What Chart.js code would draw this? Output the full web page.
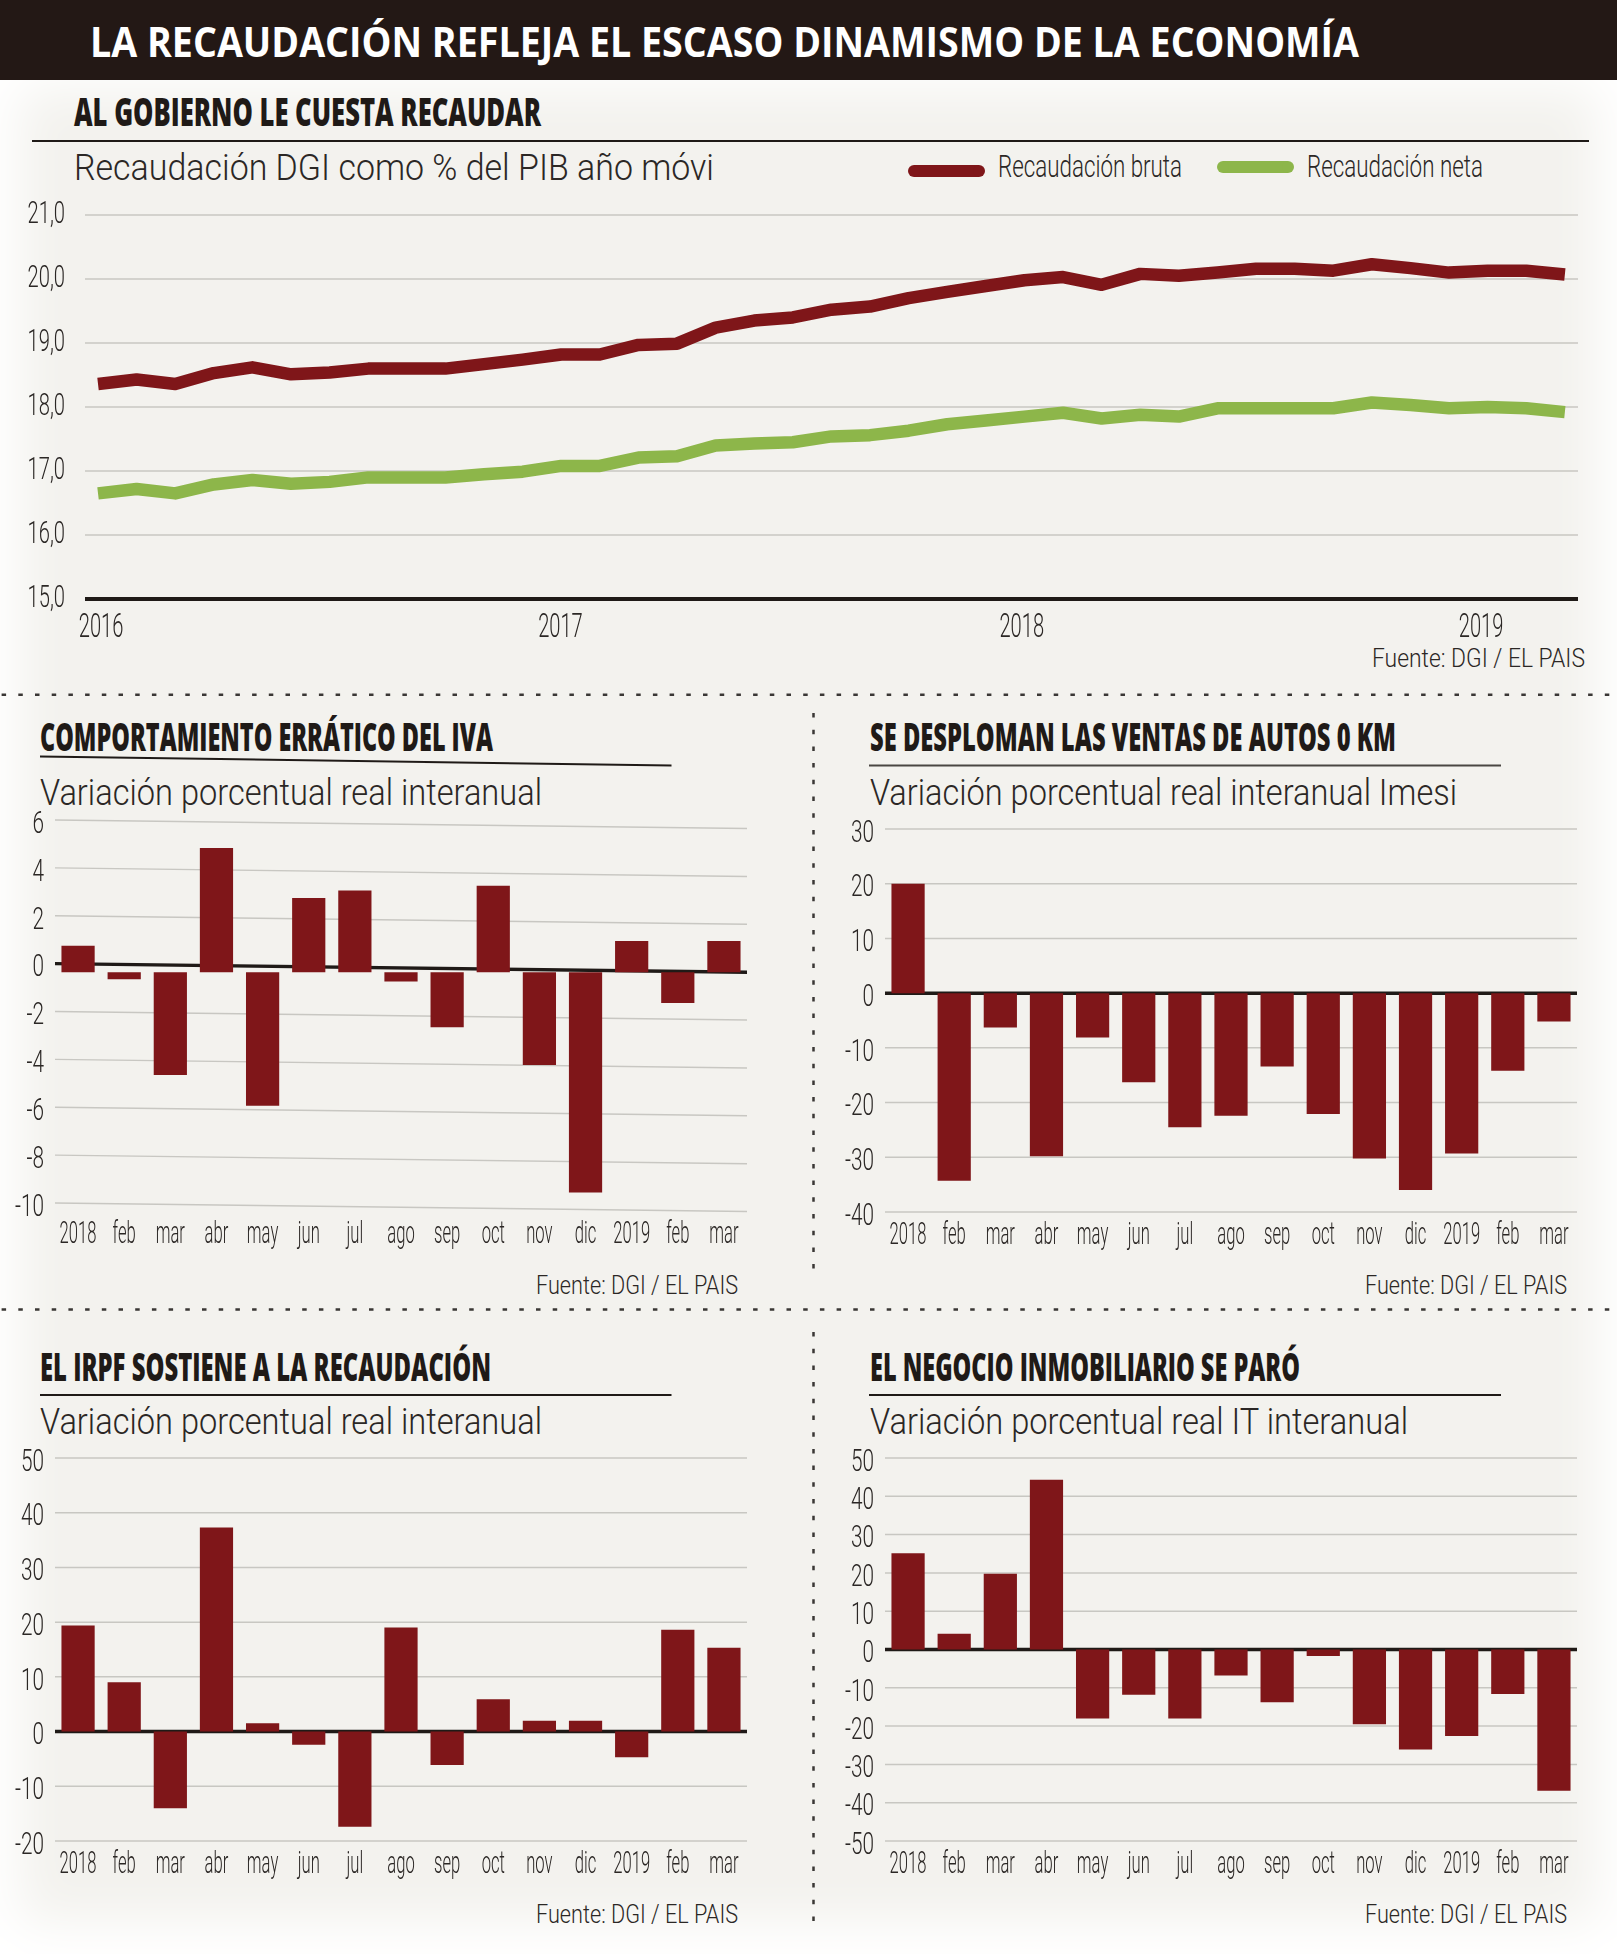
<!DOCTYPE html>
<html lang="es">
<head>
<meta charset="utf-8">
<title>La recaudación refleja el escaso dinamismo de la economía</title>
<script src="https://cdn.jsdelivr.net/npm/chart.js@4"></script>
<style>
    html, body { margin: 0; padding: 0; background: #fff; }
    #page { position: relative; width: 1617px; height: 1954px; overflow: hidden; background: #f3f2ee; }
    #fade { position: absolute; left: 0; top: 80px; width: 1617px; height: 1874px; box-shadow: inset 0 -12px 50px 20px #fff; }
    #band { position: absolute; left: 0; top: 0; width: 1617px; height: 80px; background: #231815; }
    canvas { position: absolute; }
    svg { position: absolute; left: 0; top: 0; }
</style>
</head>
<body>
<div id="page">
    <div id="fade"></div>
    <div id="band"></div>
    <svg id="overlay" width="1617" height="1954" xmlns="http://www.w3.org/2000/svg"></svg>
</div>
<script>
// data
var months = ['2018', 'feb', 'mar', 'abr', 'may', 'jun', 'jul', 'ago', 'sep', 'oct', 'nov', 'dic', '2019', 'feb', 'mar'];
var yearLabels = ['2016', '2017', '2018', '2019'];
var seriesNames = ['Recaudación bruta', 'Recaudación neta'];

var bruta = [18.36, 18.43, 18.36, 18.53, 18.62, 18.51, 18.54, 18.60, 18.60, 18.60, 18.67, 18.74, 18.82,
    18.82, 18.97, 18.99, 19.24, 19.35, 19.40, 19.52, 19.57, 19.70, 19.80, 19.89, 19.98, 20.03,
    19.91, 20.08, 20.05, 20.10, 20.16, 20.16, 20.13, 20.23, 20.17, 20.10, 20.13, 20.13, 20.07];
var neta = [16.65, 16.72, 16.65, 16.79, 16.86, 16.80, 16.83, 16.90, 16.90, 16.90, 16.95, 16.99, 17.08,
    17.08, 17.21, 17.23, 17.40, 17.43, 17.45, 17.54, 17.56, 17.63, 17.73, 17.79, 17.85, 17.91,
    17.82, 17.88, 17.85, 17.98, 17.98, 17.98, 17.98, 18.07, 18.03, 17.98, 18.00, 17.98, 17.92];

var iva = [0.75, -0.65, -4.65, 4.83, -5.94, 2.74, 3.05, -0.75, -2.66, 3.25, -4.24, -9.56, 0.94, -1.65, 0.94];
var autos = [20, -34.3, -6.3, -29.8, -8.1, -16.3, -24.5, -22.4, -13.4, -22.1, -30.2, -36, -29.3, -14.2, -5.2];
var irpf = [19.4, 9, -14, 37.3, 1.5, -2.4, -17.4, 19, -6.1, 5.9, 2, 2, -4.7, 18.6, 15.3];
var inmobiliario = [25.1, 4.1, 19.8, 44.3, -18, -11.8, -18, -6.8, -13.8, -1.7, -19.5, -26.1, -22.6, -11.6, -36.9];

var RED = '#7f1619';
var GREEN = '#8db64a';
var INK = '#2b2725';
var DARK = '#1f1a17';
var GRID = '#c8c7c2';

// grid lines, tick labels:
var axisPainter = {
    id: 'axisPainter',
    beforeDatasetsDraw: function (chart, args, opts) {
        var y = chart.scales.y, a = chart.chartArea, c = chart.ctx;
        y.ticks.forEach(function (t, i) {
            var py = y.getPixelForTick(i);
            c.beginPath();
            c.moveTo(a.left, py);
            c.lineTo(a.right, py + (opts.tilt || 0));
            c.lineWidth = t.value === opts.baseValue ? opts.baseWidth : 1.5;
            c.strokeStyle = t.value === opts.baseValue ? DARK : GRID;
            c.stroke();
        });
    },
    afterDatasetsDraw: function (chart, args, opts) {
        var x = chart.scales.x, y = chart.scales.y, c = chart.ctx;
        function label(text, px, py, align, size, sx) {
            c.save();
            c.translate(px, py);
            c.scale(sx, 1);
            c.font = '300 ' + size + 'px Roboto';
            c.fillStyle = INK;
            c.textAlign = align;
            c.textBaseline = 'middle';
            c.fillText(text, 0, 0);
            c.restore();
        }
        y.ticks.forEach(function (t, i) {
            label(t.label, chart.chartArea.left + opts.yLabelX, y.getPixelForTick(i) + opts.yLabelDy, 'right', opts.ySize, opts.yScale);
        });
        x.ticks.forEach(function (t, i) {
            label(t.label, x.getPixelForTick(i), chart.chartArea.bottom + opts.xLabelY, 'center', opts.xSize, opts.xScale);
        });
    }
};
Chart.register(axisPainter);

function makeCanvas(plot) {
    var cv = document.createElement('canvas');
    cv.width = plot.right - plot.left + 90;
    cv.height = plot.bottom - plot.top + 70;
    cv.style.left = (plot.left - 60) + 'px';
    cv.style.top = (plot.top - 20) + 'px';
    cv.style.width = cv.width + 'px';
    cv.style.height = cv.height + 'px';
    document.getElementById('page').appendChild(cv);
    return cv;
}

function barChart(plot, values, yMin, yMax, step, extra) {
    var o = extra || {};
    var painter = {
        baseValue: 0, baseWidth: 3.5, tilt: o.tilt || 0,
        yLabelX: -11, yLabelDy: 5, ySize: 31, yScale: 0.67,
        xLabelY: o.xLabelY || 24, xSize: 32, xScale: 0.52
    };
    return new Chart(makeCanvas(plot), {
        type: 'bar',
        data: {
            labels: months,
            datasets: [{
                data: values,
                backgroundColor: RED,
                categoryPercentage: 1,
                barPercentage: 0.72,
                base: o.base === undefined ? 0 : o.base
            }]
        },
        options: {
            responsive: false,
            animation: false,
            devicePixelRatio: 1,
            layout: { padding: { left: 60, right: 30, top: 20, bottom: 50 } },
            plugins: { legend: { display: false }, tooltip: { enabled: false }, axisPainter: painter },
            scales: {
                x: {
                    grid: { display: false, drawTicks: false },
                    border: { display: false },
                    ticks: { display: false, autoSkip: false, maxRotation: 0 }
                },
                y: {
                    min: yMin,
                    max: yMax,
                    grid: { display: false, drawTicks: false },
                    border: { display: false },
                    ticks: { display: false, stepSize: step, callback: function (v) { return String(v); } }
                }
            }
        }
    });
}

// top line chart, the year labels sit a little off the january points in the original
var linePlot = { left: 85, right: 1578, top: 215, bottom: 599 };
var yearTicks = [0.08, 11.98, 23.93, 35.83];
new Chart(makeCanvas(linePlot), {
    type: 'line',
    data: {
        datasets: [
            { label: seriesNames[0], data: bruta.map(function (v, i) { return { x: i, y: v }; }), borderColor: RED },
            { label: seriesNames[1], data: neta.map(function (v, i) { return { x: i, y: v }; }), borderColor: GREEN }
        ]
    },
    options: {
        responsive: false,
        animation: false,
        devicePixelRatio: 1,
        layout: { padding: { left: 60, right: 30, top: 20, bottom: 50 } },
        elements: {
            line: { borderWidth: 12.5, tension: 0, borderJoinStyle: 'round', borderCapStyle: 'butt' },
            point: { radius: 0 }
        },
        plugins: {
            legend: { display: false },
            tooltip: { enabled: false },
            axisPainter: {
                baseValue: 15, baseWidth: 4, tilt: 0,
                yLabelX: -20, yLabelDy: 0, ySize: 32, yScale: 0.63,
                xLabelY: 30, xSize: 33, xScale: 0.61
            }
        },
        scales: {
            x: {
                type: 'linear',
                min: -0.337,
                max: 38.34,
                grid: { display: false, drawTicks: false },
                border: { display: false },
                afterBuildTicks: function (s) {
                    s.ticks = yearTicks.map(function (p) { return { value: p }; });
                },
                ticks: {
                    display: false,
                    callback: function (v) { return yearLabels[yearTicks.indexOf(v)]; }
                }
            },
            y: {
                min: 15,
                max: 21,
                grid: { display: false, drawTicks: false },
                border: { display: false },
                ticks: {
                    display: false,
                    stepSize: 1,
                    callback: function (v) { return v.toFixed(1).replace('.', ','); }
                }
            }
        }
    }
});

barChart({ left: 55, right: 747, top: 820, bottom: 1203 }, iva, -10, 6, 2, { tilt: 8.6, base: -0.36, xLabelY: 31.5 });
barChart({ left: 885, right: 1577, top: 829, bottom: 1212 }, autos, -40, 30, 10);
barChart({ left: 55, right: 747, top: 1458, bottom: 1841 }, irpf, -20, 50, 10);
barChart({ left: 885, right: 1577, top: 1458, bottom: 1841 }, inmobiliario, -50, 50, 10);

// titles, rules, separators
var SVG_NS = 'http://www.w3.org/2000/svg';
var overlay = document.getElementById('overlay');

function put(tag, attrs, text) {
    var el = document.createElementNS(SVG_NS, tag);
    Object.keys(attrs).forEach(function (k) { el.setAttribute(k, attrs[k]); });
    if (text) el.textContent = text;
    overlay.appendChild(el);
}

function heavy(text, x, y, w, size, fill, weight) {
    put('text', {
        x: x, y: y, textLength: w, lengthAdjust: 'spacingAndGlyphs',
        'font-family': 'Open Sans', 'font-weight': weight || 800, 'font-size': size, fill: fill
    }, text);
}

function light(text, x, y, w, size) {
    put('text', {
        x: x, y: y, textLength: w, lengthAdjust: 'spacingAndGlyphs',
        'font-family': 'Roboto', 'font-weight': 300, 'font-size': size, fill: INK
    }, text);
}

function rule(x1, y1, x2, y2, width, color, dash) {
    var a = { x1: x1, y1: y1, x2: x2, y2: y2, stroke: color, 'stroke-width': width };
    if (dash) a['stroke-dasharray'] = dash;
    put('line', a);
}

heavy('LA RECAUDACIÓN REFLEJA EL ESCASO DINAMISMO DE LA ECONOMÍA', 90, 57, 1269, 42, '#fff', 700);

heavy('AL GOBIERNO LE CUESTA RECAUDAR', 74, 126, 467, 38, DARK);
rule(32, 141, 1589, 141, 2, DARK);
light('Recaudación DGI como % del PIB año móvi', 74, 180, 640, 36);
rule(914, 171, 979, 171, 12, RED);
rule(1223, 167, 1288, 167, 12, GREEN);
put('circle', { cx: 914, cy: 171, r: 6, fill: RED });
put('circle', { cx: 979, cy: 171, r: 6, fill: RED });
put('circle', { cx: 1223, cy: 167, r: 6, fill: GREEN });
put('circle', { cx: 1288, cy: 167, r: 6, fill: GREEN });
light(seriesNames[0], 998, 177, 184, 31);
light(seriesNames[1], 1307, 177, 176, 31);
light('Fuente: DGI / EL PAIS', 1372, 667, 213, 25);

heavy('COMPORTAMIENTO ERRÁTICO DEL IVA', 40, 751, 453, 38, DARK);
rule(40, 756.5, 671.5, 765.5, 2, DARK);
light('Variación porcentual real interanual', 40, 805, 502, 36);
light('Fuente: DGI / EL PAIS', 536, 1294, 202, 25);

heavy('SE DESPLOMAN LAS VENTAS DE AUTOS 0 KM', 870, 751, 526, 38, DARK);
rule(869, 765.5, 1501, 765.5, 2, '#4a4643');
light('Variación porcentual real interanual Imesi', 870, 805, 587, 36);
light('Fuente: DGI / EL PAIS', 1365, 1294, 202, 25);

heavy('EL IRPF SOSTIENE A LA RECAUDACIÓN', 40, 1381, 451, 38, DARK);
rule(40, 1395, 671.5, 1395, 2, DARK);
light('Variación porcentual real interanual', 40, 1434, 502, 36);
light('Fuente: DGI / EL PAIS', 536, 1923, 202, 25);

heavy('EL NEGOCIO INMOBILIARIO SE PARÓ', 870, 1381, 430, 38, DARK);
rule(869, 1395, 1501, 1395, 2, DARK);
light('Variación porcentual real IT interanual', 870, 1434, 538, 36);
light('Fuente: DGI / EL PAIS', 1365, 1923, 202, 25);

rule(1.6, 694.7, 1617, 694.7, 2.5, '#3a3735', '4.5 12.2');
rule(1.6, 1309.6, 1617, 1309.6, 2.5, '#3a3735', '4.5 12.2');
rule(813.5, 713, 813.5, 1278, 2.5, '#3a3735', '4.5 12.2');
rule(813.5, 1332, 813.5, 1926, 2.5, '#3a3735', '4.5 12.2');
</script>
</body>
</html>
